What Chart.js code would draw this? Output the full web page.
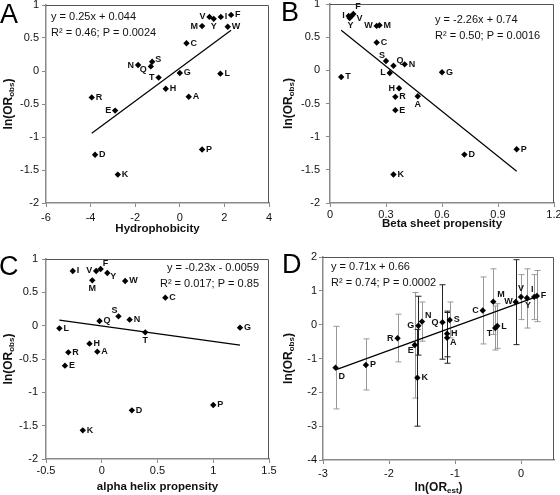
<!DOCTYPE html>
<html><head><meta charset="utf-8">
<script src="https://cdn.jsdelivr.net/npm/chart.js@4.4.1/dist/chart.umd.min.js"></script>
<style>
html,body{margin:0;padding:0;background:#fff;overflow:hidden;width:560px;height:495px;}
canvas{position:absolute;display:block;}
</style></head><body>
<canvas id="cA" style="left:0px;top:0px;width:280px;height:248px" width="280" height="248"></canvas>
<canvas id="cB" style="left:280px;top:0px;width:280px;height:248px" width="280" height="248"></canvas>
<canvas id="cC" style="left:0px;top:248px;width:280px;height:247px" width="280" height="247"></canvas>
<canvas id="cD" style="left:280px;top:248px;width:280px;height:247px" width="280" height="247"></canvas>
<script>
// ---------- data ----------
const aminoAcids = ['A','R','N','D','C','Q','E','G','H','I','L','K','M','F','P','S','T','W','Y','V'];
const lnORobs      = [-0.39,-0.40, 0.09,-1.27, 0.42, 0.07,-0.60,-0.03,-0.27, 0.82,-0.04,-1.57, 0.68, 0.85,-1.19, 0.14,-0.10, 0.67, 0.79, 0.82];
const hydrophobicity = [0.40,-3.95,-1.87,-3.80, 0.30,-1.30,-2.90, 0.00,-0.63, 1.84, 1.82,-2.78, 1.00, 2.30, 1.00,-1.24,-0.95, 2.15, 1.52, 1.33];
const betaSheet    = [0.47, 0.35, 0.40, 0.72, 0.25, 0.34, 0.35, 0.60, 0.37, 0.10, 0.32, 0.34, 0.265,0.125,1.00, 0.30, 0.06, 0.25, 0.105,0.115];
const alphaHelix   = [-0.04,-0.30,0.25, 0.27, 0.57,-0.02,-0.33, 1.24,-0.11,-0.26,-0.38,-0.17,-0.085,-0.01,1.00, 0.15, 0.39, 0.21, 0.05,-0.05];
const lnORest      = [-1.12,-1.87,-1.50,-2.81,-0.58,-1.19,-1.61,-1.555,-1.12,0.20,-0.36,-1.57,-0.42, 0.24,-2.35,-1.08,-0.39,-0.08, 0.09, 0.00];
const ciHigh       = [ 0.36, 0.31, 0.67,-0.05, 1.41, 1.18, 0.95, 0.84, 0.40, 1.48, 0.62,-0.14, 1.65, 1.60,-0.42, 0.67, 0.55, 1.92, 1.65, 1.48];
const ciLow        = [-1.14,-1.10,-0.49,-2.49,-0.57,-1.02,-2.17,-0.90,-0.95, 0.15,-0.70,-3.00,-0.29, 0.09,-1.93,-0.39,-0.75,-0.59,-0.10, 0.15];

// regression line end points (as drawn)
const fitA_x = [-3.95, 2.30], fitA_y = [-0.944, 0.619];
const fitB_x = [0.06, 1.00],  fitB_y = [0.604, -1.52];
const fitC_x = [-0.38, 1.24], fitC_y = [0.082, -0.291];
const fitD_x = [-2.81, 0.24], fitD_y = [-1.335, 0.830];

// tick labels
const ticksY_obs = [-2,-1.5,-1,-0.5,0,0.5,1];
const ticksX_A = [-6,-4,-2,0,2,4];
const ticksX_B = [0,0.3,0.6,0.9,1.2];
const ticksX_C = [-0.5,0,0.5,1,1.5];
const ticksX_D = [-3,-2,-1,0];
const ticksY_D = [-4,-3,-2,-1,0,1,2];

const eqA = ['y = 0.25x + 0.044', 'R\u00B2 = 0.46; P = 0.0024'];
const eqB = ['y = -2.26x + 0.74', 'R\u00B2 = 0.50; P = 0.0016'];
const eqC = ['y = -0.23x - 0.0059', 'R\u00B2 = 0.017; P = 0.85'];
const eqD = ['y = 0.71x + 0.66', 'R\u00B2 = 0.74; P = 0.0002'];

// ---------- styling / placement (not data) ----------
const FONT = "'Liberation Sans', Arial, sans-serif";
Chart.defaults.font.family = FONT;
const darkBars = ['G','K','Q','H','A','W'];
const labelPosA = {V:['right',-4,0],Y:['center',0,8],M:['right',-4,0],N:['right',-4,0],Q:['right',-4,3],T:['right',-4,0],E:['right',-4,0],S:['left',3,-2]};
const labelPosB = {I:['right',-4,0],Y:['center',1,8],F:['left',2,-7],V:['left',5,3],W:['right',-4,0],S:['right',-1,-6],Q:['left',3,-5],L:['right',-4,0],H:['right',-4,0],A:['center',0,8]};
const labelPosC = {V:['right',-4,0],F:['left',2,-5],Y:['left',3,4],M:['center',0,8],S:['right',-1,-6],T:['center',0,8]};
const labelPosD = {D:['left',3,9],R:['right',-4,0],E:['right',-1,6],G:['right',-4,0],N:['left',3,-6],Q:['right',-4,0],A:['left',3,5],C:['right',-4,0],M:['left',4,-7],T:['right',-3,5],W:['right',-3,0],V:['center',0,-8],Y:['center',1,8],I:['center',-2,-7]};

function drawRich(ctx, parts, x, y, align) {
  let total = 0;
  parts.forEach(p => { ctx.font = 'bold ' + p[1] + 'px ' + FONT; total += ctx.measureText(p[0]).width; });
  let cx = align === 'center' ? x - total / 2 : x;
  ctx.textAlign = 'left';
  parts.forEach(p => {
    ctx.font = 'bold ' + p[1] + 'px ' + FONT;
    ctx.fillText(p[0], cx, y + p[2]);
    cx += ctx.measureText(p[0]).width;
  });
}

function buildPanel(cfg) {
  const el = document.getElementById(cfg.id);
  const W = el.width, H = el.height, g = cfg.g;
  const pts = cfg.xs.map((x, i) => ({x: x, y: cfg.ys[i]}));
  const fit = cfg.fitX.map((x, i) => ({x: x, y: cfg.fitY[i]}));
  const fixScale = (s, isX) => {
    if (isX) s.height = H - g.bottom; else s.width = g.left;
    s.paddingLeft = 0; s.paddingRight = 0; s.paddingTop = 0; s.paddingBottom = 0;
  };
  const annot = {
    id: 'annot' + cfg.id,
    beforeDatasetsDraw(chart) {
      if (!cfg.ciLow) return;
      const c = chart.ctx, xs = chart.scales.x, ys = chart.scales.y;
      c.save();
      cfg.xs.forEach((x, i) => {
        const px = Math.round(xs.getPixelForValue(x)) + 0.5;
        const y1 = ys.getPixelForValue(cfg.ciHigh[i]), y2 = ys.getPixelForValue(cfg.ciLow[i]);
        c.strokeStyle = darkBars.includes(aminoAcids[i]) ? '#222' : '#999';
        c.lineWidth = 1;
        c.beginPath();
        c.moveTo(px, y1); c.lineTo(px, y2);
        c.moveTo(px - 3, y1); c.lineTo(px + 3, y1);
        c.moveTo(px - 3, y2); c.lineTo(px + 3, y2);
        c.stroke();
      });
      c.restore();
    },
    afterDraw(chart) {
      const c = chart.ctx, xs = chart.scales.x, ys = chart.scales.y, a = chart.chartArea;
      c.save();
      c.strokeStyle = '#555'; c.lineWidth = 1;
      c.beginPath();
      c.moveTo(a.left, a.top + 0.5); c.lineTo(a.right - 0.5, a.top + 0.5); c.lineTo(a.right - 0.5, a.bottom);
      c.stroke();
      c.fillStyle = '#111';
      c.font = 'bold 9px ' + FONT;
      c.textBaseline = 'middle';
      cfg.xs.forEach((x, i) => {
        const aa = aminoAcids[i];
        const p = cfg.labelPos[aa] || ['left', 4, 0];
        c.textAlign = p[0];
        c.fillText(aa, xs.getPixelForValue(x) + p[1], ys.getPixelForValue(cfg.ys[i]) + p[2]);
      });
      c.font = '11px ' + FONT;
      c.textBaseline = 'alphabetic';
      c.textAlign = cfg.eqAlign;
      c.fillText(cfg.eq[0], cfg.eqX, cfg.eqY1);
      c.fillText(cfg.eq[1], cfg.eqX, cfg.eqY2);
      c.font = '27px ' + FONT;
      c.textAlign = 'left';
      c.fillStyle = '#000';
      c.fillText(cfg.letter, cfg.letterX, cfg.letterY);
      c.fillStyle = '#111';
      drawRich(c, cfg.xTitle, (a.left + a.right) / 2, cfg.xTitleY, 'center');
      c.translate(cfg.yTitleX, (a.top + a.bottom) / 2);
      c.rotate(-Math.PI / 2);
      drawRich(c, [['ln(OR', 12, 0], ['obs', 8, 2], [')', 12, 0]], 0, 0, 'center');
      c.restore();
    }
  };
  const scaleCommon = (isX, min, max, tickVals, pad) => ({
    type: 'linear', min: min, max: max,
    afterBuildTicks: s => { s.ticks = tickVals.map(v => ({value: v})); },
    afterFit: s => fixScale(s, isX),
    ticks: {color: '#111', font: {size: 11}, padding: pad, autoSkip: false, maxRotation: 0, callback: v => String(v)},
    grid: {drawOnChartArea: false, drawTicks: true, tickLength: 4, color: '#888', lineWidth: 1},
    border: {color: '#8a8a8a', width: 1.5}
  });
  return new Chart(el, {
    type: 'scatter',
    data: {datasets: [
      {type: 'line', data: fit, borderColor: '#000', borderWidth: 1.2, pointRadius: 0, fill: false, tension: 0, order: 2},
      {type: 'scatter', data: pts, pointStyle: 'rectRot', pointRadius: 3.2, backgroundColor: '#000', borderColor: '#000', borderWidth: 0, order: 1}
    ]},
    options: {
      responsive: false, maintainAspectRatio: false, animation: false, events: [],
      plugins: {legend: {display: false}, tooltip: {enabled: false}},
      layout: {padding: {left: 0, top: g.top, right: W - g.right, bottom: 0}},
      scales: {
        x: scaleCommon(true, cfg.xmin, cfg.xmax, cfg.xTicks, cfg.xPad),
        y: scaleCommon(false, cfg.ymin, cfg.ymax, cfg.yTicks, cfg.yPad)
      }
    },
    plugins: [annot]
  });
}

buildPanel({id: 'cA', letter: 'A', letterX: 0, letterY: 23,
  xs: hydrophobicity, ys: lnORobs, fitX: fitA_x, fitY: fitA_y,
  xmin: -6, xmax: 4, xTicks: ticksX_A, ymin: -2, ymax: 1, yTicks: ticksY_obs,
  g: {left: 46, right: 269, top: 5, bottom: 203}, xPad: 4, yPad: 3,
  eq: eqA, eqAlign: 'left', eqX: 51, eqY1: 20, eqY2: 36,
  xTitle: [['Hydrophobicity', 11.5, 0]], xTitleY: 232, yTitleX: 12, labelPos: labelPosA});

buildPanel({id: 'cB', letter: 'B', letterX: 1, letterY: 21,
  xs: betaSheet, ys: lnORobs, fitX: fitB_x, fitY: fitB_y,
  xmin: 0, xmax: 1.2, xTicks: ticksX_B, ymin: -2, ymax: 1, yTicks: ticksY_obs,
  g: {left: 50, right: 274, top: 4, bottom: 203}, xPad: 1, yPad: 6,
  eq: eqB, eqAlign: 'left', eqX: 155, eqY1: 23, eqY2: 39,
  xTitle: [['Beta sheet propensity', 11.5, 0]], xTitleY: 227, yTitleX: 12, labelPos: labelPosB});

buildPanel({id: 'cC', letter: 'C', letterX: -1, letterY: 27,
  xs: alphaHelix, ys: lnORobs, fitX: fitC_x, fitY: fitC_y,
  xmin: -0.5, xmax: 1.5, xTicks: ticksX_C, ymin: -2, ymax: 1, yTicks: ticksY_obs,
  g: {left: 46, right: 269, top: 11, bottom: 211}, xPad: 1, yPad: 4,
  eq: eqC, eqAlign: 'right', eqX: 259, eqY1: 23, eqY2: 39,
  xTitle: [['alpha helix propensity', 11.5, 0]], xTitleY: 242, yTitleX: 12, labelPos: labelPosC});

buildPanel({id: 'cD', letter: 'D', letterX: 2, letterY: 25,
  xs: lnORest, ys: lnORobs, fitX: fitD_x, fitY: fitD_y, ciLow: ciLow, ciHigh: ciHigh,
  xmin: -3, xmax: 0.5, xTicks: ticksX_D, ymin: -4, ymax: 2, yTicks: ticksY_D,
  g: {left: 43, right: 274, top: 9, bottom: 212}, xPad: 3, yPad: 2,
  eq: eqD, eqAlign: 'left', eqX: 51, eqY1: 22, eqY2: 38,
  xTitle: [['ln(OR', 12, 0], ['est', 8, 2], [')', 12, 0]], xTitleY: 243, yTitleX: 12, labelPos: labelPosD});
</script>
</body></html>
